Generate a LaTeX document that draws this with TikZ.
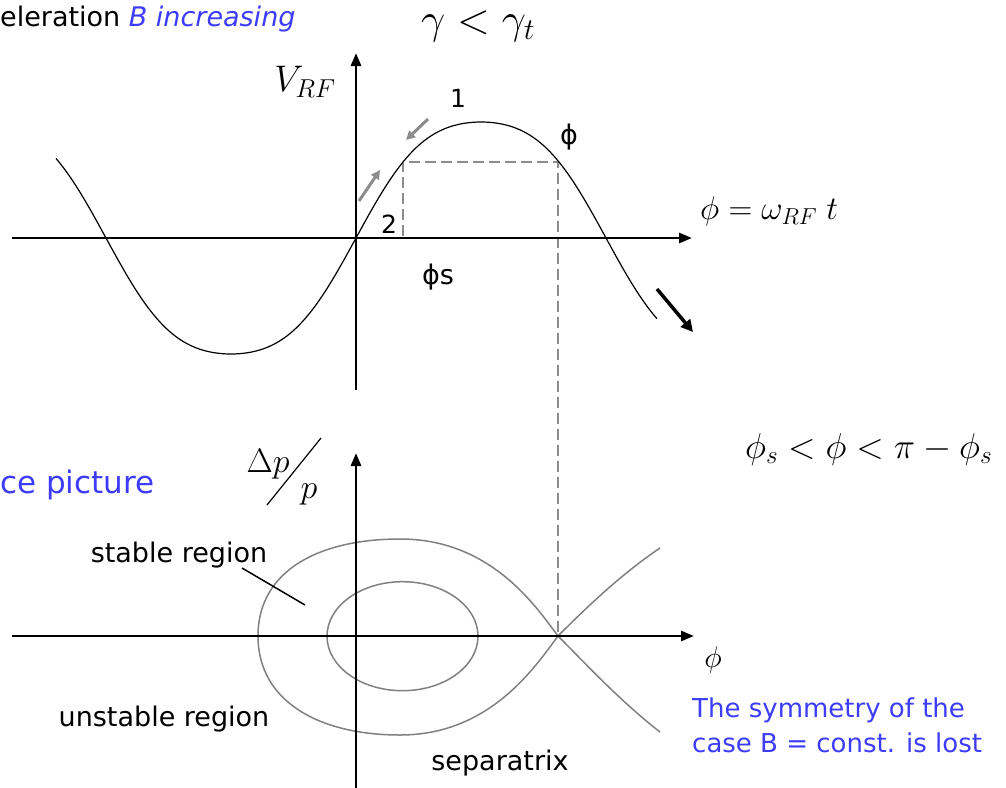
\IfFileExists{fix-cm.sty}{\RequirePackage{fix-cm}}{}
\documentclass[tikz,border=0pt]{standalone}
\usepackage{fontspec}
\newfontfamily\comic{DejaVu Sans}
\usetikzlibrary{arrows.meta}
\definecolor{txtblue}{RGB}{60,60,250}
\definecolor{sepgray}{RGB}{128,128,128}
\definecolor{arrgray}{RGB}{140,140,140}
\tikzset{
  axisline/.style={line width=2.8pt, -{Triangle[length=13pt,width=10pt]}},
  rfcurve/.style={line width=1.2pt},
  guide/.style={draw=arrgray, line width=1.4pt, dash pattern=on 11pt off 5pt},
  sepline/.style={draw=sepgray, line width=1.5pt},
  greyarrow/.style={draw=arrgray, line width=3pt, -{Triangle[length=9pt,width=9pt]}},
  blackarrow/.style={line width=3.5pt, -{Triangle[length=12pt,width=12pt]}},
  lbl/.style={inner sep=0pt, font=\comic\fontsize{27}{32}\selectfont},
  bluelbl/.style={inner sep=0pt, text=txtblue, font=\comic\fontsize{26}{32}\selectfont},
  smalllbl/.style={inner sep=0pt, font=\comic\fontsize{25}{30}\selectfont},
  mathlbl/.style={inner sep=0pt},
}
\begin{document}
\begin{tikzpicture}[x=1pt,y=-1pt]
\useasboundingbox (0,0) rectangle (1006,787);

% ---------- upper plot ----------
\coordinate (O1) at (356,238);
\coordinate (Ps) at (403,162);
\coordinate (Pr) at (558,162);
\coordinate (Xs) at (558,636);
\draw[guide] (403,236) -- (Ps) -- (Pr) -- (Xs);
\draw[rfcurve] plot[domain=56:657, samples=241, variable=\t]
  (\t, {238-123.4*sin(0.72*(\t-356))-7.4*sin(2.16*(\t-356))});
\draw[axisline] (12,238) -- (692,238);
\draw[axisline] (356,390) -- (356,53);

\coordinate (ga1s) at (359,201); \coordinate (ga1e) at (380,170);
\coordinate (ga2s) at (428,119); \coordinate (ga2e) at (406,140);
\draw[greyarrow] (ga1s) -- (ga1e);
\draw[greyarrow] (ga2s) -- (ga2e);
\coordinate (ba1s) at (657,289); \coordinate (ba1e) at (693,332);
\draw[blackarrow] (ba1s) -- (ba1e);

\node[inner sep=0pt, font=\comic\fontsize{27}{32}\selectfont, anchor=base west] (acc) at (0,26) {eleration \textcolor{txtblue}{\itshape B increasing}};
\node[mathlbl, font=\fontsize{43}{48}\selectfont] (gam) at (478,26) {$\gamma < \gamma_t$};
\node[mathlbl, font=\fontsize{37}{42}\selectfont] (vrf) at (305,82) {$V_{RF}$};
\node[smalllbl] (one) at (458,98) {1};
\node[lbl] (phitop) at (569,137) {ϕ};
\node[smalllbl] (two) at (389,224) {2};
\node[lbl] (phis) at (438,277) {ϕs};
\node[mathlbl, anchor=west, font=\fontsize{33}{38}\selectfont] (eq1) at (700,211) {$\phi = \omega_{RF}\; t$};
\node[mathlbl, anchor=west, font=\fontsize{36}{40}\selectfont] (eq2) at (745,449) {$\phi_s < \phi < \pi - \phi_s$};

% ---------- lower plot ----------
\coordinate (O2) at (356,636);
\draw[sepline] (Xs) .. controls (535,605) and (490,539) .. (400,539)
  .. controls (320,539) and (258,570) .. (258,636)
  .. controls (258,702) and (320,735) .. (400,735)
  .. controls (490,735) and (535,667) .. (Xs);
\draw[sepline] (Xs) .. controls (585,609) and (620,575) .. (660,548);
\draw[sepline] (Xs) .. controls (585,663) and (620,701) .. (660,732);
\draw[sepline] (402.5,636.2) ellipse [x radius=75.5, y radius=54.5];
\draw[axisline] (12,636) -- (694,636);
\draw[axisline] (356,790) -- (356,453);

\node[inner sep=0pt, text=txtblue, font=\comic\fontsize{31}{36}\selectfont, anchor=base west] (phase) at (0,493) {ce picture};
\node[mathlbl, anchor=base, font=\fontsize{34}{38}\selectfont] (dp) at (268,472) {$\Delta p$};
\coordinate (sl1) at (267,505); \coordinate (sl2) at (321,438);
\draw[line width=1.2pt] (sl1) -- (sl2);
\node[mathlbl, anchor=base, font=\fontsize{34}{38}\selectfont] (pp) at (309,498) {$p$};

\node[lbl, anchor=base] (stable) at (179,562) {stable region};
\coordinate (pt1) at (242,568); \coordinate (pt2) at (305,605);
\draw[line width=1.5pt] (pt1) -- (pt2);
\node[lbl, anchor=base] (unstable) at (164,726) {unstable region};
\node[lbl, anchor=base] (separ) at (500,770) {separatrix};
\node[mathlbl, font=\fontsize{30}{34}\selectfont] (phil) at (713,660) {$\phi$};
\node[bluelbl, anchor=base west] (sym1) at (692,717) {The symmetry of the};
\node[bluelbl, anchor=base west] (sym2) at (692,752) {case B = const. is lost};
\end{tikzpicture}
\end{document}
